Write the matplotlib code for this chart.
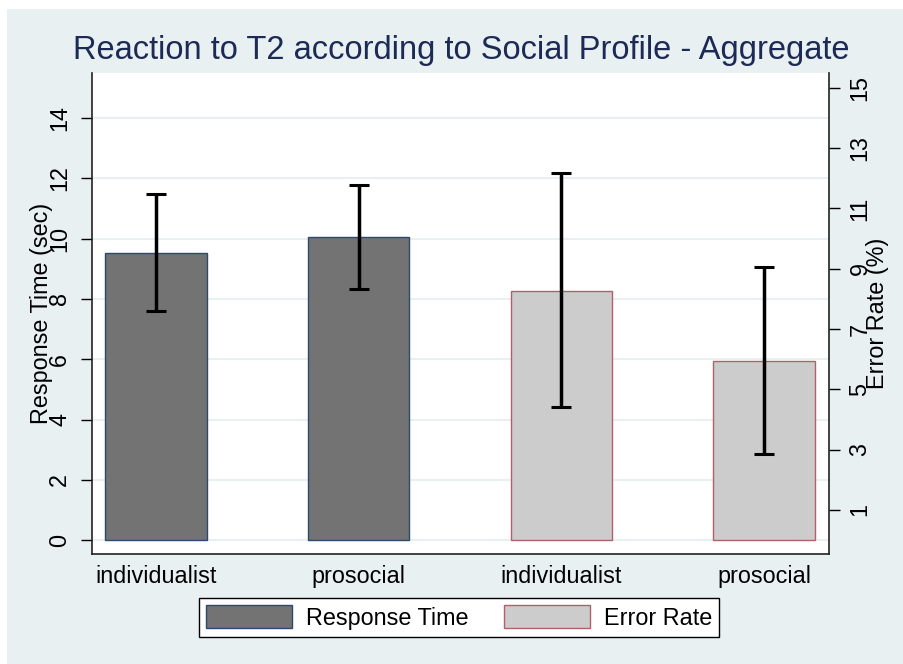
import numpy as np
import matplotlib
matplotlib.use("Agg")
import matplotlib.pyplot as plt
from matplotlib.patches import Rectangle, Patch

plt.rcParams['font.family'] = ['Liberation Sans', 'DejaVu Sans']

# data
groups = ["individualist", "prosocial", "individualist", "prosocial"]
rt_mean = [9.53, 10.05]
rt_lo = [7.60, 8.34]
rt_hi = [11.47, 11.79]
err_mean = [8.27, 5.94]
err_lo = [4.41, 2.85]
err_hi = [12.18, 9.06]

bg = "#e8f0f2"
fig = plt.figure(figsize=(9.04, 6.64), dpi=100, facecolor="white")
fig.patches.append(Rectangle((7 / 904, -0.5), 2, 1.5 - 9 / 664, transform=fig.transFigure,
                             facecolor=bg, edgecolor="none", zorder=-10))

W, H = 904, 664
left, right, top, bottom = 92, 829, 73, 554
ax = fig.add_axes([left / W, 1 - bottom / H, (right - left) / W, (bottom - top) / H])
ax.set_facecolor("white")

x = np.arange(4)
ax.bar(x[:2], rt_mean, width=0.5, color="#737373", edgecolor="#2c4a6e", linewidth=1, zorder=2)
ax.bar(x[2:], err_mean, width=0.5, color="#cccccc", edgecolor="#b0606a", linewidth=1, zorder=2)
means = rt_mean + err_mean
lo = rt_lo + err_lo
hi = rt_hi + err_hi
yerr = [np.array(means) - np.array(lo), np.array(hi) - np.array(means)]
ax.errorbar(x, means, yerr=yerr, fmt="none", ecolor="black", elinewidth=2.5,
            capsize=7.5, capthick=2.2, zorder=3)

ax.set_xlim(-0.316, 3.32)
ax.set_ylim(-0.46, 15.49)
ax.set_yticks(np.arange(0, 15, 2))
ax.grid(axis="y", color=bg, linewidth=1.5, zorder=0)
ax.set_axisbelow(True)
ax.set_xticks(x)
ax.set_xticklabels(groups, fontsize=16.8)
ax.tick_params(axis="x", length=0, pad=8)
ax.tick_params(axis="y", length=8, width=1, labelsize=16.8, pad=7, labelrotation=90)
for lab in ax.get_yticklabels():
    lab.set_va("center")
for s in ["left", "bottom"]:
    ax.spines[s].set_color("#222222")
    ax.spines[s].set_linewidth(1.2)
ax.spines["top"].set_visible(False)
ax.spines["right"].set_visible(False)

ax2 = ax.twinx()
ax2.set_ylim(ax.get_ylim())
ax2.set_yticks(np.arange(1, 16, 2))
ax2.tick_params(axis="y", length=8, width=1, labelsize=16.8, pad=6, labelrotation=90)
for lab in ax2.get_yticklabels():
    lab.set_va("center")
ax2.spines["right"].set_color("#222222")
ax2.spines["right"].set_linewidth(1.2)
for s in ["left", "top", "bottom"]:
    ax2.spines[s].set_visible(False)

fig.text(461 / W, 1 - 51 / H, "Reaction to T2 according to Social Profile - Aggregate",
         ha="center", va="center", fontsize=23.5, color="#1c2a55")
fig.text(42 / W, 1 - 313 / H, "Response Time (sec)", rotation=90, ha="center", va="center", fontsize=16.8)
fig.text(878 / W, 1 - 313 / H, "Error Rate (%)", rotation=90, ha="center", va="center", fontsize=16.8)

handles = [Patch(facecolor="#737373", edgecolor="#2c4a6e", label="Response Time"),
           Patch(facecolor="#cccccc", edgecolor="#b0606a", label="Error Rate")]
leg = fig.legend(handles=handles, loc="center", bbox_to_anchor=(459 / W, 1 - 617.5 / H), ncol=2,
                 fontsize=16.8, frameon=True, fancybox=False, edgecolor="black", framealpha=1,
                 handlelength=3.7, handleheight=1.1, handletextpad=0.6, columnspacing=1.5,
                 borderpad=0.3, borderaxespad=0)
leg.get_frame().set_linewidth(1)

fig.savefig("out.png", dpi=100, facecolor=fig.get_facecolor())
